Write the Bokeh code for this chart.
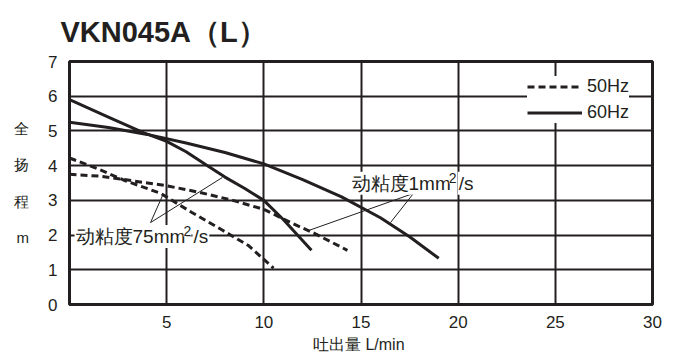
from bokeh.plotting import figure
from bokeh.models import Range1d, FixedTicker, Label, Legend, LegendItem, Title
from bokeh.embed import file_html
from bokeh.resources import INLINE

# ---- data ----
x_ticks = [5, 10, 15, 20, 25, 30]
y_ticks = [0, 1, 2, 3, 4, 5, 6, 7]

q_60_1 = [0, 2, 4, 6, 8, 10, 12, 14, 16, 17.5, 19.0]
h_60_1 = [5.25, 5.1, 4.9, 4.65, 4.38, 4.05, 3.6, 3.1, 2.5, 1.95, 1.33]

q_60_75 = [0, 2, 3.8, 5, 6, 7.1, 8, 9, 10, 11, 12.45]
h_60_75 = [5.9, 5.4, 4.95, 4.7, 4.4, 4.0, 3.67, 3.35, 3.0, 2.45, 1.56]

q_50_1 = [0, 1.5, 2.8, 5, 6.7, 8.4, 10, 11.5, 12.6, 14.3]
h_50_1 = [3.75, 3.7, 3.6, 3.42, 3.23, 3.0, 2.74, 2.33, 2.05, 1.56]

q_50_75 = [0, 1.5, 2.8, 4.7, 6.3, 7.9, 9.2, 10.5]
h_50_75 = [4.22, 3.9, 3.58, 3.2, 2.65, 2.13, 1.7, 1.05]

title_text = "VKN045A（L）"
x_label = "吐出量  L/min"
y_label = "全\n扬\n程\nm"
legend_labels = ["50Hz", "60Hz"]

INK = "#231f20"
FONT = "Liberation Sans"

p = figure(width=675, height=362, x_range=Range1d(0, 30), y_range=Range1d(0, 7),
           output_backend="svg", toolbar_location=None,
           min_border_left=69, min_border_right=23, min_border_top=61, min_border_bottom=58)

p.outline_line_color = INK
p.outline_line_width = 3
p.background_fill_color = "white"

# axes
p.xaxis.ticker = FixedTicker(ticks=x_ticks)
p.yaxis.ticker = FixedTicker(ticks=y_ticks)
for ax in (p.xaxis[0], p.yaxis[0]):
    ax.axis_line_color = None
    ax.major_tick_line_color = None
    ax.minor_tick_line_color = None
    ax.major_label_text_font = FONT
    ax.major_label_text_font_size = "17px"
    ax.major_label_text_color = INK
p.xaxis.major_label_standoff = 5
p.yaxis.major_label_standoff = 6
p.xaxis.axis_label = x_label
p.xaxis.axis_label_text_font = FONT
p.xaxis.axis_label_text_font_style = "normal"
p.xaxis.axis_label_text_font_size = "16px"
p.xaxis.axis_label_text_color = INK
p.xaxis.axis_label_standoff = 5

p.yaxis.axis_label = y_label
p.yaxis.axis_label_orientation = "horizontal"
p.yaxis.axis_label_text_font = FONT
p.yaxis.axis_label_text_font_style = "normal"
p.yaxis.axis_label_text_font_size = "15px"
p.yaxis.axis_label_text_color = INK
p.yaxis.axis_label_text_line_height = 2.15
p.yaxis.axis_label_standoff = 16

# grid
p.xgrid.ticker = FixedTicker(ticks=[5, 10, 15, 20, 25])
p.ygrid.ticker = FixedTicker(ticks=[1, 2, 3, 4, 5, 6])
p.grid.grid_line_color = INK
p.grid.grid_line_width = 2
p.grid.grid_line_alpha = 1

# curves
r50a = p.line(q_50_1, h_50_1, line_color=INK, line_width=3, line_dash="7 4")
r50b = p.line(q_50_75, h_50_75, line_color=INK, line_width=3, line_dash="7 4")
r60a = p.line(q_60_1, h_60_1, line_color=INK, line_width=3)
r60b = p.line(q_60_75, h_60_75, line_color=INK, line_width=3)

# leader lines
p.line([4.17, 4.79], [2.36, 3.14], line_color=INK, line_width=1)
p.line([4.17, 7.87], [2.36, 3.66], line_color=INK, line_width=1)
p.line([17.7, 16.52], [3.2, 2.36], line_color=INK, line_width=1)
p.line([17.7, 12.3], [3.2, 2.13], line_color=INK, line_width=1)

def lab(x, y, text, size="19px", **kw):
    l = Label(x=x, y=y, text=text, text_font=FONT, text_font_size=size,
              text_color=INK, text_baseline="middle", **kw)
    p.add_layout(l)
    return l

# annotations: main text, superscript 2, "/s"
for x0, y0, main, x2, xs in [(0.26, 1.96, "动粘度75mm", 5.87, 6.33),
                             (14.46, 3.49, "动粘度1mm", 19.52, 19.98)]:
    lab(x0, y0, main, background_fill_color="white", padding=1)
    lab(x2, y0, "2", size="14px", background_fill_color="white",
        padding=0, y_offset=5)
    lab(xs, y0, "/s", background_fill_color="white", padding=1)

# title
p.add_layout(Title(text=title_text, align="left", offset=-9, text_font=FONT,
                   text_font_size="29px", text_font_style="bold", text_color=INK,
                   vertical_align="top", standoff=23), "above")

legend = Legend(items=[LegendItem(label=legend_labels[0], renderers=[r50a]),
                       LegendItem(label=legend_labels[1], renderers=[r60a])],
                location=(458, 181))
legend.border_line_color = None
legend.background_fill_color = "white"
legend.background_fill_alpha = 1
legend.label_text_font = FONT
legend.label_text_font_size = "18px"
legend.label_text_color = INK
legend.glyph_width = 55
legend.glyph_height = 17
legend.label_height = 17
legend.label_standoff = 5
legend.padding = 3
legend.spacing = 5
legend.margin = 0
p.add_layout(legend)

open("out.html", "w").write(file_html(p, INLINE))
